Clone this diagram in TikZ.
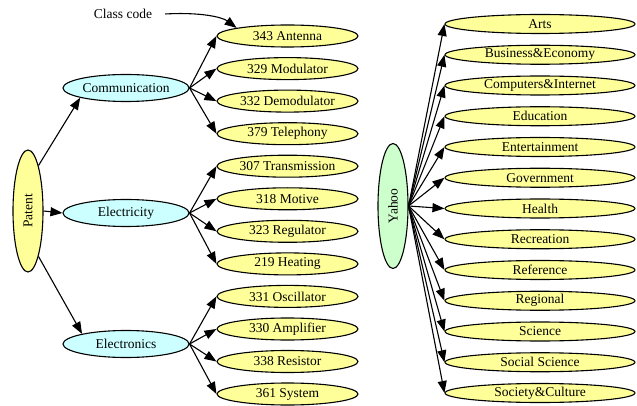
\documentclass[tikz,border=0pt]{standalone}
\usepackage{fontspec}
\setmainfont{Liberation Serif}
\usetikzlibrary{arrows.meta,shapes.geometric}
\definecolor{cyanfill}{HTML}{CCFFFF}
\definecolor{greenfill}{HTML}{CCFFCC}
\definecolor{yellowfill}{HTML}{FFFF99}
\begin{document}
\begin{tikzpicture}[x=1pt,y=-1pt,
  every node/.style={font=\rmfamily\fontsize{13.5}{16}\selectfont},
  base/.style={ellipse,draw=black,line width=1.1pt,inner sep=0pt},
  rootnode/.style={base,minimum width=30pt,minimum height=122pt},
  midnode/.style={base,fill=cyanfill,minimum width=126pt,minimum height=27pt},
  leafL/.style={base,fill=yellowfill,minimum width=141pt,minimum height=22pt},
  leafR/.style={base,fill=yellowfill,minimum width=190pt,minimum height=19pt},
  edge/.style={line width=1.1pt,-{Triangle[length=12pt,width=9pt]}}]
\useasboundingbox (0,0) rectangle (637,406);

% label
\node[inner xsep=13pt,inner ysep=2pt] (cc) at (123,14) {Class code};

% left tree
\node[rootnode,fill=yellowfill] (patent) at (28,211) {\rotatebox{90}{Patent}};
\node[midnode] (comm) at (126,88) {Communication};
\node[midnode] (elec) at (126,213) {Electricity};
\node[midnode] (elecs) at (126,344) {Electronics};

\node[leafL] (l1)  at (287.5,36.0)  {343 Antenna};
\node[leafL] (l2)  at (287.5,68.6)  {329 Modulator};
\node[leafL] (l3)  at (287.5,101.1) {332 Demodulator};
\node[leafL] (l4)  at (287.5,133.7) {379 Telephony};
\node[leafL] (l5)  at (287.5,166.2) {307 Transmission};
\node[leafL] (l6)  at (287.5,198.8) {318 Motive};
\node[leafL] (l7)  at (287.5,231.3) {323 Regulator};
\node[leafL] (l8)  at (287.5,263.9) {219 Heating};
\node[leafL] (l9)  at (287.5,296.4) {331 Oscillator};
\node[leafL] (l10) at (287.5,329.0) {330 Amplifier};
\node[leafL] (l11) at (287.5,361.5) {338 Resistor};
\node[leafL] (l12) at (287.5,394.0) {361 System};

\draw[edge] (patent.77) -- (comm.192);
\draw[edge] (patent.east) -- (elec.west);
\draw[edge] (patent.283) -- (elecs.167);

\foreach \i in {1,...,4} {\draw[edge] (comm.east) -- (l\i.west);}
\foreach \i in {5,...,8} {\draw[edge] (elec.east) -- (l\i.west);}
\foreach \i in {9,...,12} {\draw[edge] (elecs.east) -- (l\i.west);}

\draw[edge] (cc.east) .. controls (200,12) and (222,17) .. (l1.171);

% right tree
\node[rootnode,fill=greenfill,minimum height=125pt] (yahoo) at (393,206) {\rotatebox{90}{Yahoo}};

\node[leafR] (r1)  at (540,24.0)  {Arts};
\node[leafR] (r2)  at (540,54.75) {Business\&Economy};
\node[leafR] (r3)  at (540,85.5)  {Computers\&Internet};
\node[leafR] (r4)  at (540,116.25){Education};
\node[leafR] (r5)  at (540,147.0) {Entertainment};
\node[leafR] (r6)  at (540,177.75){Government};
\node[leafR] (r7)  at (540,208.5) {Health};
\node[leafR] (r8)  at (540,239.25){Recreation};
\node[leafR] (r9)  at (540,270.0) {Reference};
\node[leafR] (r10) at (540,300.75){Regional};
\node[leafR] (r11) at (540,331.5) {Science};
\node[leafR] (r12) at (540,362.25){Social Science};
\node[leafR] (r13) at (540,393.0) {Society\&Culture};

\foreach \i in {1,...,13} {\draw[edge] (yahoo.east) -- (r\i.west);}
\end{tikzpicture}
\end{document}
